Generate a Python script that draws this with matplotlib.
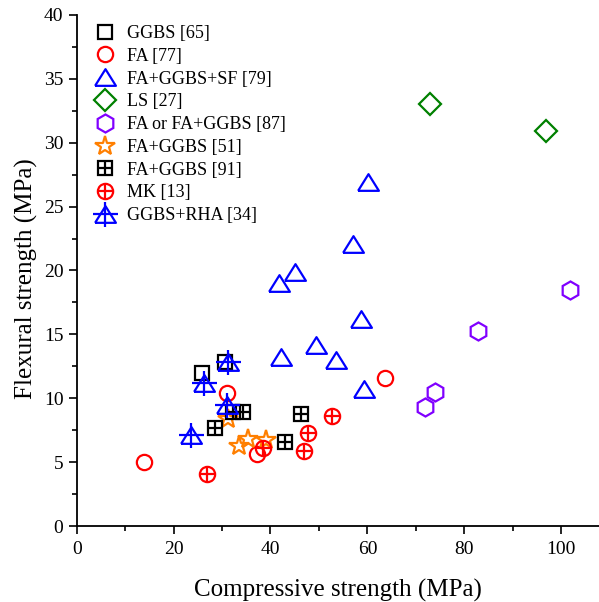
import matplotlib
matplotlib.use('Agg')
import matplotlib.pyplot as plt
from matplotlib.ticker import MultipleLocator
import numpy as np

plt.rcParams['font.family'] = ['Liberation Serif', 'DejaVu Serif']

# data
ggbs_x = [25.8, 30.6]
ggbs_y = [11.95, 12.8]

fa_x = [13.8, 31.0, 37.3, 63.7]
fa_y = [5.0, 10.4, 5.6, 11.6]

sf_x = [60.1, 57.1, 45.1, 41.8, 58.6, 49.4, 42.2, 53.5, 59.4]
sf_y = [26.9, 22.1, 19.9, 19.0, 16.2, 14.2, 13.2, 13.0, 10.7]

ls_x = [73.0, 96.9]
ls_y = [33.0, 30.9]

hex_x = [101.9, 82.9, 74.0, 71.9]
hex_y = [18.5, 15.3, 10.5, 9.3]

star_x = [31.3, 33.4, 35.4, 39.1]
star_y = [8.4, 6.3, 6.8, 6.7]

grid_x = [32.3, 34.3, 28.6, 42.9, 46.3]
grid_y = [8.95, 8.95, 7.65, 6.6, 8.75]

mk_x = [27.0, 38.4, 46.9, 47.8, 52.7]
mk_y = [4.1, 6.1, 5.9, 7.3, 8.6]

rha_x = [31.3, 26.3, 31.0, 23.6]
rha_y = [12.8, 11.2, 9.5, 7.1]

labels = ['GGBS [65]', 'FA [77]', 'FA+GGBS+SF [79]', 'LS [27]', 'FA or FA+GGBS [87]',
          'FA+GGBS [51]', 'FA+GGBS [91]', 'MK [13]', 'GGBS+RHA [34]']

tri = [(-1, -0.8), (1, -0.8), (0, 0.8), (-1, -0.8)]
lw = 1.6

fig = plt.figure(figsize=(5.99, 6.02), dpi=100)
ax = fig.add_axes([0.128, 0.1262, 0.872, 0.849])


def pts(x, y, marker, color, size, **kw):
    h, = ax.plot(x, y, linestyle='none', marker=marker, markersize=size,
                 markerfacecolor='none', markeredgecolor=color,
                 markeredgewidth=lw, **kw)
    return h


h1 = pts(ggbs_x, ggbs_y, 's', 'black', 9.5)
h2 = pts(fa_x, fa_y, 'o', 'red', 11)
h3 = pts(sf_x, sf_y, tri, 'blue', 15)
h4 = pts(ls_x, ls_y, 'D', 'green', 11.5)
h5 = pts(hex_x, hex_y, 'h', '#8000ff', 13)
h6 = pts(star_x, star_y, '*', '#ff7f00', 14.5)
h7a = pts(grid_x, grid_y, 's', 'black', 9.5)
h7b = pts(grid_x, grid_y, '+', 'black', 9.5)
h8a = pts(mk_x, mk_y, 'o', 'red', 11)
h8b = pts(mk_x, mk_y, '+', 'red', 11)
h9a = pts(rha_x, rha_y, tri, 'blue', 15)
h9b = pts(rha_x, rha_y, '+', 'blue', 18)

ax.set_xlim(0, 107.8)
ax.set_ylim(0, 40)
ax.xaxis.set_major_locator(MultipleLocator(20))
ax.xaxis.set_minor_locator(MultipleLocator(10))
ax.yaxis.set_major_locator(MultipleLocator(5))
ax.yaxis.set_minor_locator(MultipleLocator(2.5))
ax.tick_params(which='major', length=6, width=1.2, labelsize=14, direction='out')
ax.tick_params(axis='x', which='major', pad=5)
ax.tick_params(which='minor', length=3.5, width=1.2, direction='out')
ax.spines['top'].set_visible(False)
ax.spines['right'].set_visible(False)
ax.spines['left'].set_linewidth(1.3)
ax.spines['bottom'].set_linewidth(1.3)

ax.set_xlabel('Compressive strength (MPa)', fontsize=18, labelpad=15)
ax.set_ylabel('Flexural strength (MPa)', fontsize=18)
ax.yaxis.set_label_coords(-0.074, 0.484)

ax.legend([h1, h2, h3, h4, h5, h6, (h7a, h7b), (h8a, h8b), (h9a, h9b)], labels,
          loc='upper left', bbox_to_anchor=(0.01, 1.005), frameon=False, fontsize=13,
          handlelength=1.2, handletextpad=0.6, labelspacing=0.32, borderpad=0.2)

fig.savefig('out.png', dpi=100)
